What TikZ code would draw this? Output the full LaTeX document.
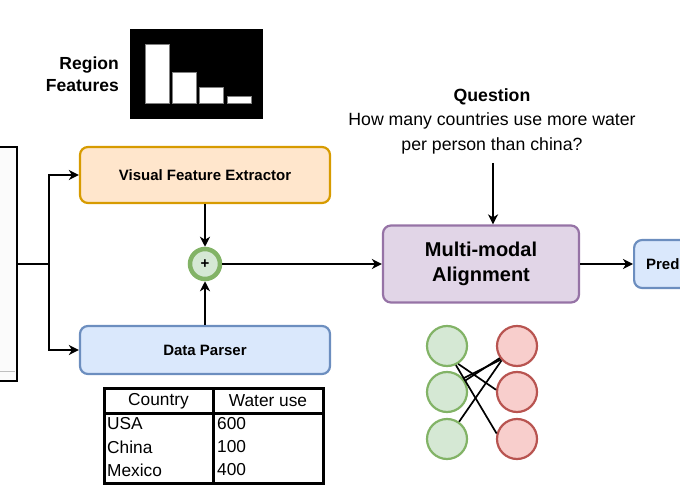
\documentclass[tikz,border=0pt]{standalone}
\usepackage{fontspec}
\setmainfont{Liberation Sans}
\usetikzlibrary{arrows.meta}
\definecolor{orf}{HTML}{FFE6CC}
\definecolor{ord}{HTML}{D79B00}
\definecolor{blf}{HTML}{DAE8FC}
\definecolor{bld}{HTML}{6C8EBF}
\definecolor{puf}{HTML}{E1D5E7}
\definecolor{pud}{HTML}{9673A6}
\definecolor{grf}{HTML}{D5E8D4}
\definecolor{grd}{HTML}{82B366}
\definecolor{ref}{HTML}{F8CECC}
\definecolor{red}{HTML}{B85450}
\definecolor{imgf}{HTML}{FBFBFB}
\begin{document}
\begin{tikzpicture}[x=1bp,y=-1bp,
  box/.style={draw, rounded corners=8bp, line width=2.2bp, align=center, inner sep=0,
    font=\bfseries\fontsize{15bp}{18bp}\selectfont},
  conn/.style={line width=2bp, -{Stealth[length=10bp,width=10bp,inset=3bp]}},
  plainline/.style={line width=2bp},
  gc/.style={circle, draw=grd, fill=grf, line width=2.2bp, minimum size=40bp, inner sep=0},
  rc/.style={circle, draw=red, fill=ref, line width=2.2bp, minimum size=40bp, inner sep=0},
  edgeline/.style={line width=1.7bp, black},
  tabtxt/.style={inner sep=0, font=\fontsize{17.3bp}{20bp}\selectfont},
  bar/.style={fill=white, draw=gray, line width=0.6bp}
]
\clip (0,0) rectangle (680,500);
% image placeholder on the left
\node[draw=black, line width=2.5bp, fill=imgf, minimum width=24bp, minimum height=234bp, inner sep=0] (img) at (5,264) {};
\draw[lightgray, line width=1bp] (0,371) -- (15,371);

% region features
\node[align=right, anchor=east, inner sep=0, font=\bfseries\fontsize{17.5bp}{21.5bp}\selectfont] (rf) at (119,74) {Region\\Features};
\node[fill=black, draw=black, minimum width=132bp, minimum height=89bp, inner sep=0] (feat) at (196,73.5) {};
\draw[bar] (145,44) rectangle (169,103);
\draw[bar] (172,72) rectangle (196,103);
\draw[bar] (199,87) rectangle (223,103);
\draw[bar] (227,96) rectangle (251,103);

% main boxes
\node[box, fill=orf, draw=ord, minimum width=250bp, minimum height=56bp] (vfe) at (205,175) {Visual Feature Extractor};
\node[box, fill=blf, draw=bld, minimum width=250bp, minimum height=48bp] (dp) at (205,350) {Data Parser};
\node[circle, draw=grd, fill=grf, line width=4.5bp, minimum size=30bp, inner sep=0,
  font=\bfseries\fontsize{15bp}{15bp}\selectfont] (plus) at (205,264) {+};
\node[box, fill=puf, draw=pud, minimum width=196bp, minimum height=77bp,
  font=\bfseries\fontsize{20bp}{25bp}\selectfont] (mma) at (481,264) {Multi-modal\\Alignment};
\node[box, fill=blf, draw=bld, minimum width=84bp, minimum height=48bp, text width=60bp, align=left, anchor=west] (pred) at (633,264) {Pred};

% question
\node[align=center, inner sep=0, font=\fontsize{17.7bp}{24.5bp}\selectfont] (q) at (492,121) {\textbf{Question}\\How many countries use more water\\per person than china?};
\coordinate (qa) at (493,163);
\draw[conn] (qa) -- (qa |- mma.north);

% connectors
\coordinate (br) at (49,264);
\draw[plainline] (img.east) -- (br);
\draw[conn] (br) |- (vfe.west);
\draw[conn] (br) |- (dp.west);
\draw[conn] (vfe.south) -- (plus.north);
\draw[conn] (dp.north) -- (plus.south);
\draw[conn] (plus.east) -- (mma.west);
\draw[conn] (mma.east) -- (pred.west);

% table
\node[draw, line width=3bp, minimum width=219bp, minimum height=95bp, inner sep=0] (tbl) at (213.5,435.5) {};
\draw[line width=3bp] (104,413) -- (323,413);
\draw[line width=3bp] (213,388) -- (213,483);
\node[tabtxt] (h1) at (158.5,401) {Country};
\node[tabtxt] (h2) at (268,401) {Water use};
\node[tabtxt, anchor=west] (a1) at (107,424) {USA};
\node[tabtxt, anchor=west] (a2) at (107,447) {China};
\node[tabtxt, anchor=west] (a3) at (107,470) {Mexico};
\node[tabtxt, anchor=west] (b1) at (217,424) {600};
\node[tabtxt, anchor=west] (b2) at (217,447) {100};
\node[tabtxt, anchor=west] (b3) at (217,470) {400};

% alignment network
\node[gc] (g1) at (447,346) {};
\node[gc] (g2) at (447,392) {};
\node[gc] (g3) at (447,439) {};
\node[rc] (r1) at (517,346) {};
\node[rc] (r2) at (517,392) {};
\node[rc] (r3) at (517,439) {};
\draw[edgeline] (g1.-58) -- (r2.174);
\draw[edgeline] (g1.-65) -- (r3.165);
\draw[edgeline] (g2.32) -- (r1.-145);
\draw[edgeline] (g2.40) -- (r1.-140);
\draw[edgeline] (g3.55) -- (r1.-137);
\end{tikzpicture}
\end{document}
